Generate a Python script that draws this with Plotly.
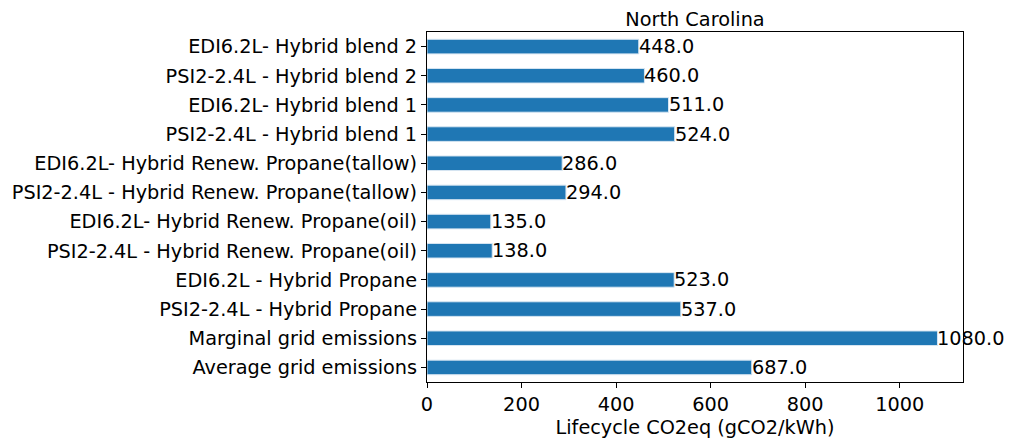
import plotly.graph_objects as go

categories = [
    "Average grid emissions",
    "Marginal grid emissions",
    "PSI2-2.4L - Hybrid Propane",
    "EDI6.2L - Hybrid Propane",
    "PSI2-2.4L - Hybrid Renew. Propane(oil)",
    "EDI6.2L- Hybrid Renew. Propane(oil)",
    "PSI2-2.4L - Hybrid Renew. Propane(tallow)",
    "EDI6.2L- Hybrid Renew. Propane(tallow)",
    "PSI2-2.4L - Hybrid blend 1",
    "EDI6.2L- Hybrid blend 1",
    "PSI2-2.4L - Hybrid blend 2",
    "EDI6.2L- Hybrid blend 2",
]
values = [687.0, 1080.0, 537.0, 523.0, 138.0, 135.0, 294.0, 286.0, 524.0, 511.0, 460.0, 448.0]
x_ticks = [0, 200, 400, 600, 800, 1000]

FONT = "DejaVu Sans"
FS = 19.3

fig = go.Figure()
fig.add_trace(go.Bar(
    x=values, y=categories, orientation="h", width=0.5,
    marker=dict(color="#1f77b4", line=dict(color="#d8e6f2", width=1)),
    showlegend=False,
))
for c, v in zip(categories, values):
    fig.add_annotation(x=v, y=c, text=f"{v:.1f}", showarrow=False,
                       xanchor="left", yanchor="middle", xshift=-2,
                       font=dict(family=FONT, size=FS, color="black"))

L, R, T, B = 419, 61, 24, 66
fig.update_layout(
    width=1016, height=440,
    margin=dict(l=L, r=R, t=T, b=B, autoexpand=False),
    paper_bgcolor="white", plot_bgcolor="white",
    font=dict(family=FONT, size=FS, color="black"),
    title=dict(text="North Carolina", x=(L + (1016 - R)) / 2 / 1016, xanchor="center",
               y=1 - 11 / 440, yanchor="middle", font=dict(family=FONT, size=FS)),
)
fig.update_xaxes(
    range=[0, 1134], tickvals=x_ticks, ticks="outside", ticklen=5, tickcolor="black",
    tickfont=dict(family=FONT, size=FS), automargin=False,
    showline=True, linecolor="black", linewidth=1, mirror=True, showgrid=False,
    zeroline=False,
    title=dict(text="Lifecycle CO2eq (gCO2/kWh)", standoff=4, font=dict(family=FONT, size=FS)),
)
fig.update_yaxes(
    type="category", categoryorder="array", categoryarray=categories,
    range=[-0.5, 11.5], ticks="outside", ticklen=5, tickcolor="black",
    tickfont=dict(family=FONT, size=FS), automargin=False,
    showline=True, linecolor="black", linewidth=1, mirror=True, showgrid=False,
)
fig.write_html("out.html")
